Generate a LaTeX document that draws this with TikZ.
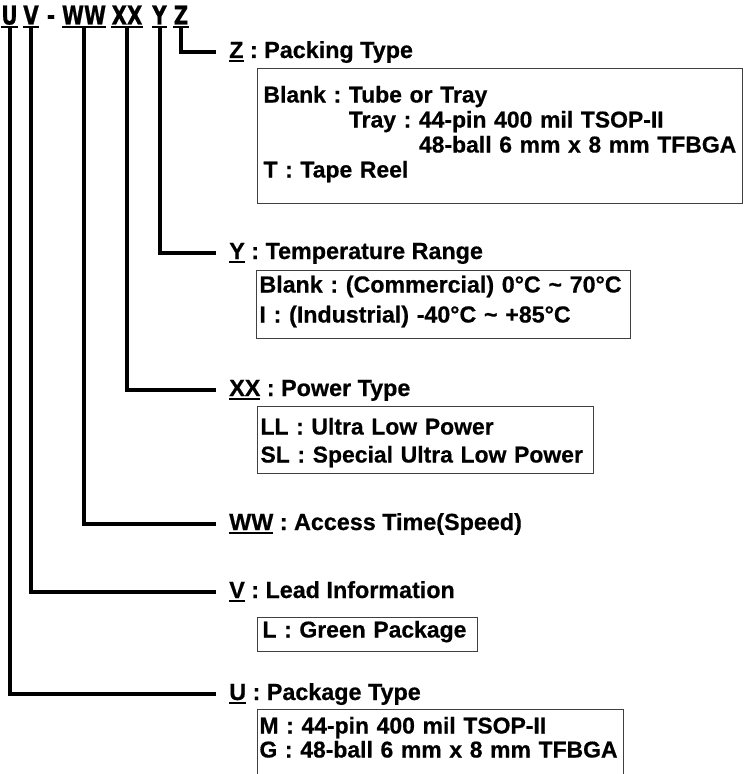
\documentclass[tikz,border=0pt]{standalone}
\usepackage{fontspec}
\usepackage{graphicx}
\setmainfont{Liberation Sans}[UprightFont=* Bold, BoldFont=* Bold, FakeBold=0.6]
\newfontfamily\titlefont{DejaVu Sans}[UprightFont=* Bold, BoldFont=* Bold, FakeBold=0.8]
\newcommand\ulx[1]{\leavevmode\setbox0\hbox{#1}\rlap{\vrule width \wd0 height -1.8pt depth 3.3pt}\box0\relax}
\newcommand\tstrut[1]{\rule{0pt}{#1}}
\newcommand\bstrut[1]{\rule[-#1]{0pt}{#1}}
\frenchspacing
\hyphenpenalty=10000
\begin{document}
\frenchspacing
\begin{tikzpicture}[x=0.75pt,y=-0.75pt,
  ttl/.style={font=\titlefont\fontsize{19.5pt}{21pt}\selectfont, inner xsep=0pt, inner ysep=0pt, text height=14.2pt, text depth=1.7pt, anchor=base},
  ulline/.style={line width=2pt},
  conn/.style={line width=3pt, line join=miter},
  lab/.style={anchor=west, inner sep=0pt, text height=13pt, text depth=4pt, font=\fontsize{17.5pt}{21pt}\selectfont\frenchspacing},
  infobox/.style={draw=black!75, line width=0.75pt, anchor=north west, align=left, inner ysep=0pt},
]
\useasboundingbox (0,0) rectangle (743,774);
\clip (0,0) rectangle (743,774);
% title
\node[ttl] (tU)  at (9.5,24.5) {\scalebox{0.77}[1]{U}};
\node[ttl] (tV)  at (31,24.5)  {\scalebox{0.77}[1]{V}};
\node[ttl] (tD)  at (51,24.5)  {\scalebox{0.77}[1]{-}};
\node[ttl] (tWW) at (84,24.5)  {\scalebox{0.77}[1]{WW}};
\node[ttl] (tXX) at (127,24.5) {\scalebox{0.77}[1]{XX}};
\node[ttl] (tY)  at (159.5,24.5) {\scalebox{0.77}[1]{Y}};
\node[ttl] (tZ)  at (181,24.5) {\scalebox{0.77}[1]{Z}};
\foreach \n in {tU,tV,tWW,tXX,tY,tZ}
  \draw[ulline] (\n.south west) -- (\n.south east);
% labels
\node[lab] (lZ)  at (229,52)  {\ulx{Z} : Packing Type};
\node[lab] (lY)  at (229,253) {\ulx{Y} : Temperature Range};
\node[lab] (lXX) at (229,390) {\ulx{XX} : Power Type};
\node[lab] (lWW) at (229,524) {\ulx{WW} : Access Time(Speed)};
\node[lab] (lV)  at (229,592) {\ulx{V} : Lead Information};
\node[lab] (lU)  at (229,694) {\ulx{U} : Package Type};
% connectors
\draw[conn] (tZ.south)  |- ([xshift=-9.75pt]lZ.west);
\draw[conn] (tY.south)  |- ([xshift=-9.75pt]lY.west);
\draw[conn] (tXX.south) |- ([xshift=-9.75pt]lXX.west);
\draw[conn] (tWW.south) |- ([xshift=-9.75pt]lWW.west);
\draw[conn] (tV.south)  |- ([xshift=-9.75pt]lV.west);
\draw[conn] (tU.south)  |- ([xshift=-9.75pt]lU.west);
% boxes
\node[infobox, inner xsep=4.5pt, text width=354.75pt, font=\fontsize{17.2pt}{18.75pt}\selectfont\frenchspacing] (bZ) at (257,68)
 {\tstrut{25.5pt}\mbox{Blank : Tube or Tray}\\
  \mbox{\phantom{Blank : }Tray : 44-pin 400 mil TSOP-II}\\
  \mbox{\phantom{Blank : Tray : }48-ball 6 mm x 8 mm TFBGA}\\
  \mbox{T : Tape Reel}\bstrut{19.5pt}};
\node[infobox, inner xsep=2.25pt, text width=276pt, font=\fontsize{17.4pt}{22.5pt}\selectfont\frenchspacing] (bY) at (256,270)
 {\tstrut{16.5pt}\mbox{Blank : (Commercial) 0°C \textasciitilde{} 70°C}\\
  \mbox{I : (Industrial) -40°C \textasciitilde{} +85°C}\bstrut{12pt}};
\node[infobox, inner xsep=2.25pt, text width=247.5pt, font=\fontsize{17.2pt}{21pt}\selectfont\frenchspacing] (bXX) at (257,406)
 {\tstrut{21pt}\mbox{LL : Ultra Low Power}\\
  \mbox{SL : Special Ultra Low Power}\bstrut{8.25pt}};
\node[infobox, inner xsep=3.75pt, text width=157.5pt, font=\fontsize{17.2pt}{21pt}\selectfont\frenchspacing] (bV) at (257,617)
 {\tstrut{15pt}\mbox{L : Green Package}\bstrut{10.5pt}};
\node[infobox, inner xsep=1.5pt, text width=271.5pt, font=\fontsize{17.2pt}{18pt}\selectfont\frenchspacing] (bU) at (257,709)
 {\tstrut{18pt}\mbox{M : 44-pin 400 mil TSOP-II}\\
  \mbox{G : 48-ball 6 mm x 8 mm TFBGA}\bstrut{20pt}};
\end{tikzpicture}
\end{document}
